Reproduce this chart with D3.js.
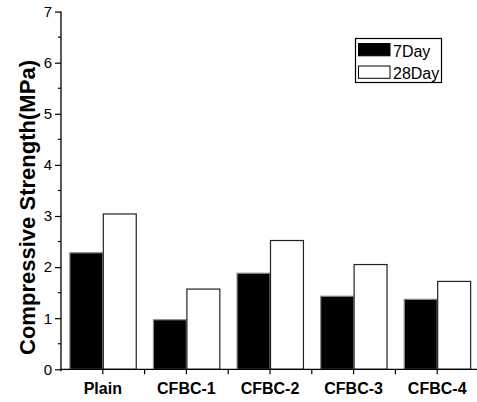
<!DOCTYPE html>
<html><head><meta charset="utf-8">
<script src="https://cdn.jsdelivr.net/npm/d3@7"></script>
<style>body{margin:0;background:#fff}svg{display:block}</style>
</head><body>
<svg id="c" width="477" height="402"></svg>
<script>
const categories = ["Plain","CFBC-1","CFBC-2","CFBC-3","CFBC-4"];
const seriesNames = ["7Day","28Day"];
const day7 = [2.28, 0.97, 1.88, 1.43, 1.37];
const day28 = [3.04, 1.57, 2.52, 2.05, 1.72];
const yTicks = [0,1,2,3,4,5,6,7];
const yMinorTicks = [0.5,1.5,2.5,3.5,4.5,5.5,6.5];

const svg = d3.select("#c");
const font = "'Liberation Sans', Arial, sans-serif";
const y = d3.scaleLinear().domain([0,7]).range([369.3, 11.6]);
const x = d3.scaleBand().domain(categories).range([61, 479]).paddingInner(0.2).paddingOuter(0.1);
const xs = d3.scaleBand().domain(seriesNames).range([0, x.bandwidth()]);
const fills = {"7Day":"#000","28Day":"#fff"};
const strokes = {"7Day":"#8a8a8a","28Day":"#222"};

const data = categories.map((c,i)=>({c, vals:[{s:"7Day",v:day7[i]},{s:"28Day",v:day28[i]}]}));
const g = svg.append("g");
g.selectAll("g.grp").data(data).join("g").attr("class","grp")
  .attr("transform", d=>`translate(${x(d.c)},0)`)
  .selectAll("rect").data(d=>d.vals).join("rect")
  .attr("x", d=>xs(d.s)+0.5).attr("width", xs.bandwidth()-0.5)
  .attr("y", d=>y(d.v)).attr("height", d=>y(0)-y(d.v))
  .attr("fill", d=>fills[d.s]).attr("stroke", d=>strokes[d.s]).attr("stroke-width",1.2);

// Y axis
const yAxis = svg.append("g").attr("transform","translate(61,0)")
  .call(d3.axisLeft(y).tickValues(yTicks).tickSize(6).tickPadding(3).tickFormat(d3.format("d")));
yAxis.select(".domain").attr("d", `M0,${y(7)}V${y(0)+2}`).attr("stroke","#000").attr("stroke-width",1.3);
yAxis.selectAll(".tick line").attr("stroke-width",1.2);
yAxis.selectAll("text").attr("font-family",font).attr("font-size",15).attr("fill","#000");
svg.append("g").selectAll("line").data(yMinorTicks).join("line")
  .attr("x1",58).attr("x2",61).attr("y1",d=>y(d)).attr("y2",d=>y(d)).attr("stroke","#000").attr("stroke-width",1.2);

// X axis
svg.append("line").attr("x1",60).attr("x2",479).attr("y1",y(0)).attr("y2",y(0)).attr("stroke","#000").attr("stroke-width",1.3);
const tickPos = [];
categories.forEach((c,i)=>{ tickPos.push(x(c)+x.bandwidth()/2); tickPos.push(x(c)+x.bandwidth()/2 + x.step()/2); });
svg.append("g").selectAll("line").data(tickPos).join("line")
  .attr("x1",d=>d).attr("x2",d=>d).attr("y1",y(0)).attr("y2",y(0)+5).attr("stroke","#000").attr("stroke-width",1.2);
svg.append("g").selectAll("text").data(categories).join("text")
  .attr("x",d=>x(d)+x.bandwidth()/2).attr("y",393.5)
  .attr("text-anchor","middle").attr("font-family",font).attr("font-weight","bold").attr("font-size",16)
  .text(d=>d);

// Y label
svg.append("text").attr("transform","translate(34.5,207.5) rotate(-90)")
  .attr("text-anchor","middle").attr("font-family",font).attr("font-weight","bold").attr("font-size",21.5)
  .attr("textLength",295).attr("lengthAdjust","spacingAndGlyphs")
  .text("Compressive Strength(MPa)");

// Legend
const lg = svg.append("g");
lg.append("rect").attr("x",355.5).attr("y",38.5).attr("width",86).attr("height",44).attr("fill","#fff").attr("stroke","#000").attr("stroke-width",1.2);
const ly = [43.5, 66];
seriesNames.forEach((s,i)=>{
  lg.append("rect").attr("x",358.5).attr("y",ly[i]).attr("width",31.5).attr("height",12.3)
    .attr("fill",fills[s]).attr("stroke","#000").attr("stroke-width",1);
  lg.append("text").attr("x",393).attr("y",ly[i]+13).attr("font-family",font).attr("font-size",16).text(s);
});
</script>
</body></html>
